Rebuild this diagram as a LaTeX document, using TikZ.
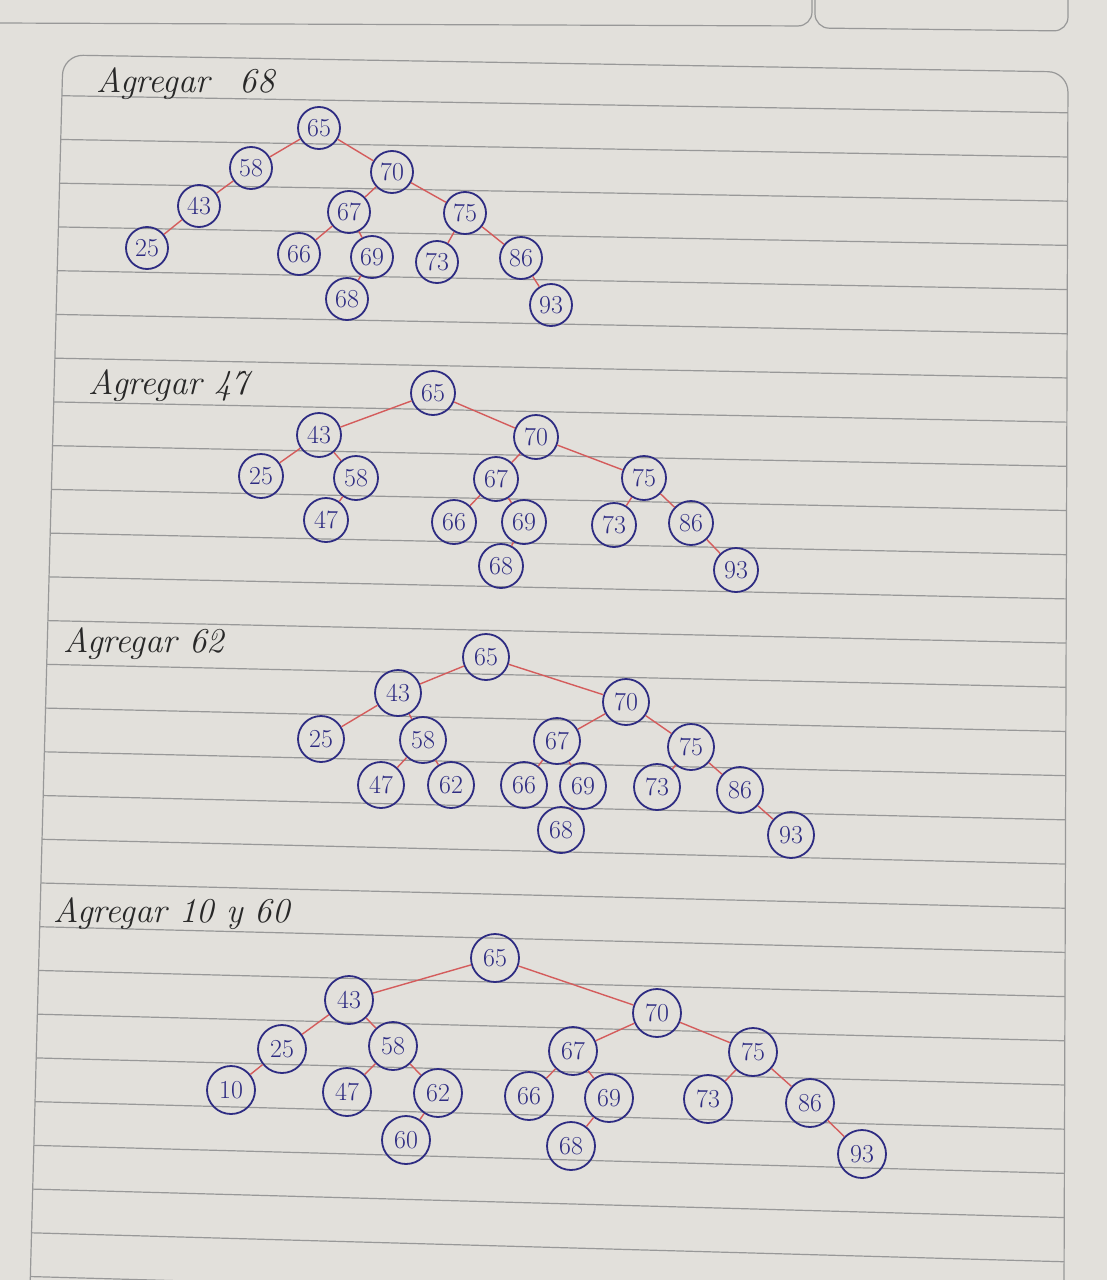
\documentclass[tikz,border=0pt]{standalone}
\usetikzlibrary{positioning}

\definecolor{paper}{RGB}{226,224,219}
\definecolor{ruling}{RGB}{152,152,152}
\definecolor{inkblue}{RGB}{46,44,130}
\definecolor{inkred}{RGB}{212,92,92}
\definecolor{pencil}{RGB}{40,40,40}

\begin{document}
\begin{tikzpicture}[key/.style={circle, draw=inkblue, line width=1.8bp, text=inkblue, inner sep=0pt, minimum size=44bp, font=\fontsize{26}{26}\selectfont},
	link/.style={inkred, line width=1.4bp},
	title/.style={anchor=base west, text=pencil, font=\fontsize{35}{37}\selectfont\itshape},
	rule/.style={ruling, line width=1.2bp}]

	\useasboundingbox (0bp,0bp) rectangle (1107bp,-1280bp);
	\fill [paper] (0bp,0bp) rectangle (1107bp,-1280bp);

	\draw [rule, rounded corners=14bp] (-5bp,-23bp) -- (812bp,-26bp) -- (812bp,5bp);
	\draw [rule, rounded corners=14bp] (815bp,5bp) -- (815bp,-28bp) -- (1068bp,-31bp) -- (1068bp,5bp);
	\draw [rule, rounded corners=20bp] (30bp,-1290bp) -- (63bp,-55bp) -- (1068bp,-72bp) -- (1064bp,-1290bp);
	\begin{scope}
		\clip (30bp,-1290bp) -- (63bp,-55bp) -- (1068bp,-72bp) -- (1064bp,-1290bp) -- cycle;
		\foreach \k in {0,...,27}
			\draw [rule] (20bp,{-(95+43.75*\k)*1bp}) -- (1080bp,{-(113+44.2*\k)*1bp});
	\end{scope}

	\node (t1) at (93bp,-92bp) [title] {Agregar\hspace{30bp}68};
	\node (t2) at (85bp,-394bp) [title] {Agregar 47};
	\node (t3) at (60bp,-652bp) [title] {Agregar 62};
	\node (t4) at (50bp,-922bp) [title] {Agregar 10 y 60};

	\begin{scope}[key/.append style={minimum size=42bp}]
	\node (a65) at (319bp,-128bp) [key] {65};
	\node (a58) at (251bp,-168bp) [key] {58};
	\node (a70) at (392bp,-172bp) [key] {70};
	\node (a43) at (199bp,-206bp) [key] {43};
	\node (a67) at (349bp,-212bp) [key] {67};
	\node (a75) at (465bp,-213bp) [key] {75};
	\node (a25) at (147bp,-248bp) [key] {25};
	\node (a66) at (299bp,-254bp) [key] {66};
	\node (a69) at (372bp,-257bp) [key] {69};
	\node (a73) at (437bp,-262bp) [key] {73};
	\node (a86) at (521bp,-258bp) [key] {86};
	\node (a68) at (347bp,-299bp) [key] {68};
	\node (a93) at (551bp,-305bp) [key] {93};
	\end{scope}

	\draw [link] (a65) to (a58);
	\draw [link] (a65) to (a70);
	\draw [link] (a58) to (a43);
	\draw [link] (a43) to (a25);
	\draw [link] (a70) to (a67);
	\draw [link] (a70) to (a75);
	\draw [link] (a67) to (a66);
	\draw [link] (a67) to (a69);
	\draw [link] (a69) to (a68);
	\draw [link] (a75) to (a73);
	\draw [link] (a75) to (a86);
	\draw [link] (a86) to (a93);

	\node (b65) at (433bp,-393bp) [key] {65};
	\node (b43) at (319bp,-435bp) [key] {43};
	\node (b70) at (536bp,-437bp) [key] {70};
	\node (b25) at (261bp,-476bp) [key] {25};
	\node (b58) at (356bp,-478bp) [key] {58};
	\node (b47) at (326bp,-520bp) [key] {47};
	\node (b67) at (496bp,-479bp) [key] {67};
	\node (b75) at (644bp,-478bp) [key] {75};
	\node (b66) at (454bp,-522bp) [key] {66};
	\node (b69) at (524bp,-522bp) [key] {69};
	\node (b73) at (614bp,-525bp) [key] {73};
	\node (b86) at (691bp,-523bp) [key] {86};
	\node (b68) at (501bp,-566bp) [key] {68};
	\node (b93) at (736bp,-570bp) [key] {93};

	\draw [link] (b65) to (b43);
	\draw [link] (b65) to (b70);
	\draw [link] (b43) to (b25);
	\draw [link] (b43) to (b58);
	\draw [link] (b58) to (b47);
	\draw [link] (b70) to (b67);
	\draw [link] (b70) to (b75);
	\draw [link] (b67) to (b66);
	\draw [link] (b67) to (b69);
	\draw [link] (b69) to (b68);
	\draw [link] (b75) to (b73);
	\draw [link] (b75) to (b86);
	\draw [link] (b86) to (b93);

	\begin{scope}[key/.append style={minimum size=46bp}]
	\node (c65) at (486bp,-657bp) [key] {65};
	\node (c43) at (398bp,-693bp) [key] {43};
	\node (c70) at (626bp,-702bp) [key] {70};
	\node (c25) at (321bp,-739bp) [key] {25};
	\node (c58) at (423bp,-740bp) [key] {58};
	\node (c67) at (557bp,-741bp) [key] {67};
	\node (c75) at (691bp,-747bp) [key] {75};
	\node (c47) at (381bp,-785bp) [key] {47};
	\node (c62) at (451bp,-785bp) [key] {62};
	\node (c66) at (524bp,-785bp) [key] {66};
	\node (c69) at (583bp,-786bp) [key] {69};
	\node (c73) at (657bp,-787bp) [key] {73};
	\node (c86) at (740bp,-790bp) [key] {86};
	\node (c68) at (561bp,-830bp) [key] {68};
	\node (c93) at (791bp,-835bp) [key] {93};
	\end{scope}

	\draw [link] (c65) to (c43);
	\draw [link] (c65) to (c70);
	\draw [link] (c43) to (c25);
	\draw [link] (c43) to (c58);
	\draw [link] (c58) to (c47);
	\draw [link] (c58) to (c62);
	\draw [link] (c70) to (c67);
	\draw [link] (c70) to (c75);
	\draw [link] (c67) to (c66);
	\draw [link] (c67) to (c69);
	\draw [link] (c69) to (c68);
	\draw [link] (c75) to (c73);
	\draw [link] (c75) to (c86);
	\draw [link] (c86) to (c93);

	\begin{scope}[key/.append style={minimum size=48bp}]
	\node (d65) at (495bp,-958bp) [key] {65};
	\node (d43) at (349bp,-1000bp) [key] {43};
	\node (d70) at (657bp,-1013bp) [key] {70};
	\node (d25) at (282bp,-1049bp) [key] {25};
	\node (d58) at (393bp,-1046bp) [key] {58};
	\node (d67) at (573bp,-1051bp) [key] {67};
	\node (d75) at (753bp,-1052bp) [key] {75};
	\node (d10) at (231bp,-1090bp) [key] {10};
	\node (d47) at (347bp,-1092bp) [key] {47};
	\node (d62) at (438bp,-1093bp) [key] {62};
	\node (d66) at (529bp,-1096bp) [key] {66};
	\node (d69) at (609bp,-1098bp) [key] {69};
	\node (d73) at (708bp,-1099bp) [key] {73};
	\node (d86) at (810bp,-1103bp) [key] {86};
	\node (d60) at (406bp,-1140bp) [key] {60};
	\node (d68) at (571bp,-1146bp) [key] {68};
	\node (d93) at (862bp,-1154bp) [key] {93};
	\end{scope}

	\draw [link] (d65) to (d43);
	\draw [link] (d65) to (d70);
	\draw [link] (d43) to (d25);
	\draw [link] (d25) to (d10);
	\draw [link] (d43) to (d58);
	\draw [link] (d58) to (d47);
	\draw [link] (d58) to (d62);
	\draw [link] (d62) to (d60);
	\draw [link] (d70) to (d67);
	\draw [link] (d70) to (d75);
	\draw [link] (d67) to (d66);
	\draw [link] (d67) to (d69);
	\draw [link] (d69) to (d68);
	\draw [link] (d75) to (d73);
	\draw [link] (d75) to (d86);
	\draw [link] (d86) to (d93);

\end{tikzpicture}
\end{document}
